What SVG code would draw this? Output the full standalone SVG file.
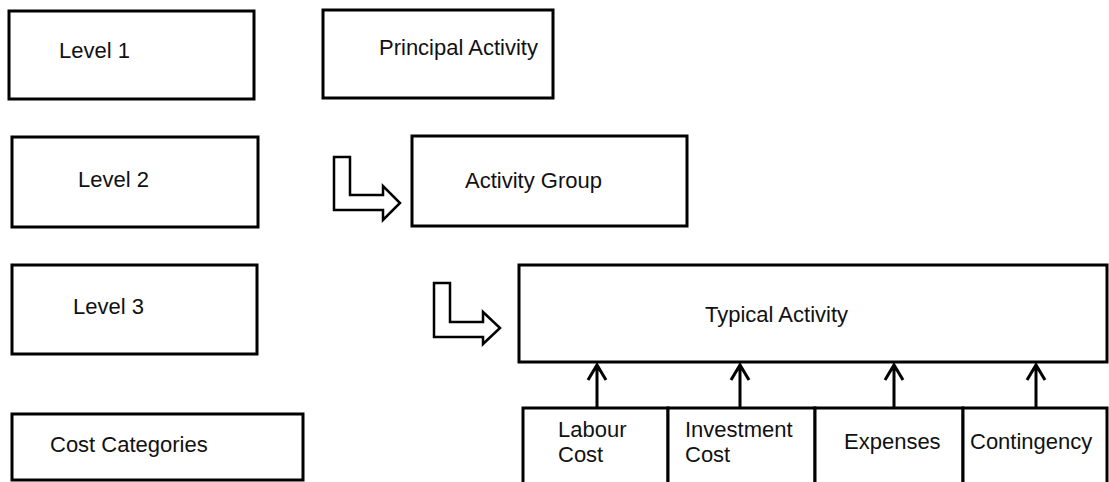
<svg xmlns="http://www.w3.org/2000/svg" width="1109" height="482" viewBox="0 0 1109 482">
<style>
.box{fill:#fff;stroke:#000;stroke-width:3}
.t{font-family:"Liberation Sans",Arial,sans-serif;font-size:22px;fill:#111}
.conn{fill:none;stroke:#000;stroke-width:3}
.big{fill:#fff;stroke:#000;stroke-width:2.5;stroke-linejoin:miter}
</style>
<rect width="1109" height="482" fill="#fff"/>
<g id="level1"><rect class="box" x="9" y="11" width="245" height="88"/><text class="t" x="59" y="58">Level 1</text></g>
<g id="principal"><rect class="box" x="323" y="10" width="230" height="88"/><text class="t" x="379" y="55">Principal Activity</text></g>
<g id="level2"><rect class="box" x="12" y="137" width="246" height="90"/><text class="t" x="78" y="187">Level 2</text></g>
<g id="group"><rect class="box" x="412" y="136" width="275" height="90"/><text class="t" x="465" y="188">Activity Group</text></g>
<g id="level3"><rect class="box" x="12" y="265" width="245" height="89"/><text class="t" x="73" y="314">Level 3</text></g>
<g id="typical"><rect class="box" x="519" y="265" width="588" height="97"/><text class="t" x="705" y="322">Typical Activity</text></g>
<g id="costcat"><rect class="box" x="12" y="414" width="291" height="66"/><text class="t" x="50" y="452">Cost Categories</text></g>
<g id="labour"><rect class="box" x="523" y="408" width="145" height="80"/><text class="t" x="558" y="437">Labour</text><text class="t" x="558" y="462">Cost</text></g>
<g id="investment"><rect class="box" x="668" y="408" width="147" height="80"/><text class="t" x="685" y="437">Investment</text><text class="t" x="685" y="462">Cost</text></g>
<g id="expenses"><rect class="box" x="815" y="408" width="148" height="80"/><text class="t" x="844" y="449">Expenses</text></g>
<g id="contingency"><rect class="box" x="963" y="408" width="144" height="80"/><text class="t" x="970" y="449">Contingency</text></g>
<g id="connectors">
<path class="big" d="M334,157 L350,157 L350,195 L383,195 L383,186 L400,203 L383,220 L383,210 L334,210 Z"/>
<path class="big" d="M434,283 L450,283 L450,322 L483,322 L483,312 L500,328 L483,344 L483,337 L434,337 Z"/>
<path class="conn" d="M597,408 V365 M588,380 L597,365 L606,380"/>
<path class="conn" d="M740,408 V365 M731,380 L740,365 L749,380"/>
<path class="conn" d="M894,408 V365 M885,380 L894,365 L903,380"/>
<path class="conn" d="M1036,408 V365 M1027,380 L1036,365 L1045,380"/>
</g>
</svg>
